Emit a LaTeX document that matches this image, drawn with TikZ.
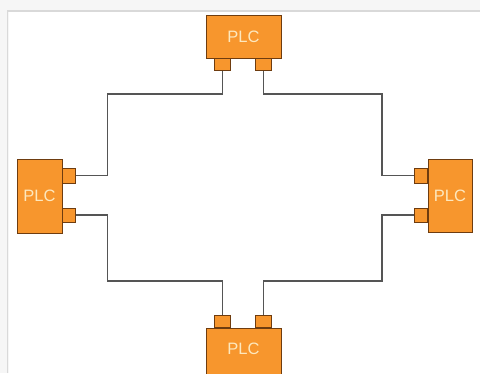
\documentclass[tikz,border=0pt]{standalone}
\usepackage{fontspec}
\setmainfont{Liberation Sans}
\usetikzlibrary{calc}
\definecolor{plcfill}{RGB}{247,150,45}
\definecolor{plcedge}{RGB}{110,60,15}
\definecolor{plctext}{RGB}{253,232,190}
\definecolor{wiregray}{RGB}{85,85,85}
\begin{document}
\begin{tikzpicture}[x=1pt,y=-1pt,
  plc/.style={draw=plcedge, fill=plcfill, line width=0.9pt, inner sep=0pt,
    text=plctext, font=\fontsize{16.5}{18}\selectfont},
  port/.style={draw=plcedge, fill=plcfill, line width=0.9pt, inner sep=0pt},
  wire/.style={draw=wiregray, line width=1.6pt}]
% frame
\useasboundingbox (0,0) rectangle (480,373);
\fill[gray!7] (0,0) rectangle (480,373);
\fill[white] (9,12) rectangle (480,373);
\draw[gray!30, line width=1.2pt] (7.5,373) -- (7.5,11) -- (480,11);
\begin{scope}
\clip (0,0) rectangle (480,373);
% plcs
\node[plc, minimum width=75, minimum height=43] (top) at (243.5,36.5) {PLC};
\node[plc, minimum width=45, minimum height=74] (left) at (39.5,196) {PLC};
\node[plc, minimum width=44, minimum height=73] (right) at (450,195.5) {PLC};
\node[plc, minimum width=75, minimum height=46, anchor=north] (bot) at (243.5,328) {};
\node[text=plctext, font=\fontsize{16.5}{18}\selectfont] (botlab) at (243.5,349) {PLC};
% ports
\node[port, minimum width=16, minimum height=12, anchor=north] (tp1) at (222.5,58) {};
\node[port, minimum width=16, minimum height=12, anchor=north] (tp2) at (263.5,58) {};
\node[port, minimum width=16, minimum height=12, anchor=south] (bp1) at (222.5,328) {};
\node[port, minimum width=16, minimum height=12, anchor=south] (bp2) at (263.5,328) {};
\node[port, minimum width=13, minimum height=15, anchor=west] (lp1) at (61.7,175.5) {};
\node[port, minimum width=13, minimum height=14, anchor=west] (lp2) at (61.7,215) {};
\node[port, minimum width=13, minimum height=15, anchor=east] (rp1) at (428,175.5) {};
\node[port, minimum width=13, minimum height=14, anchor=east] (rp2) at (428,215) {};
% wires
\draw[wire] (tp1.south) -- ++(0,23) -| ([xshift=32]lp1.east) -- (lp1.east);
\draw[wire] (tp2.south) -- ++(0,23) -| ([xshift=-32]rp1.west) -- (rp1.west);
\draw[wire] (bp1.north) -- ++(0,-34) -| ([xshift=32]lp2.east) -- (lp2.east);
\draw[wire] (bp2.north) -- ++(0,-34) -| ([xshift=-32]rp2.west) -- (rp2.west);
\end{scope}
\end{tikzpicture}
\end{document}
